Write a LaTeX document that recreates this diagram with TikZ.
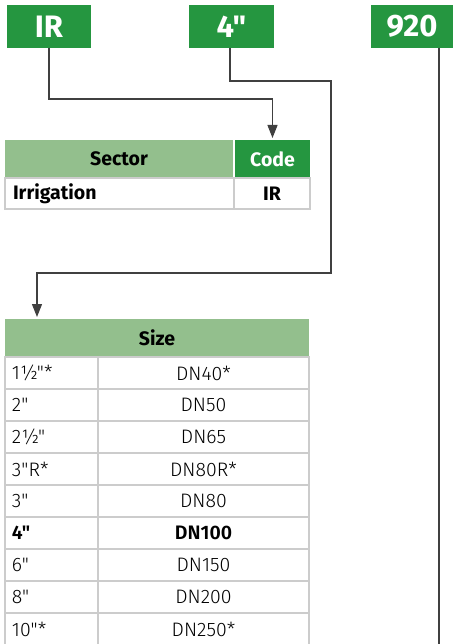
\documentclass[tikz,border=0pt]{standalone}
\usepackage{fontspec}
\setmainfont{Fira Sans}[Ligatures=TeXOff]
\newfontfamily\lightfont{Fira Sans Light}
\usetikzlibrary{arrows.meta,positioning}
\definecolor{codegreen}{HTML}{259640}
\definecolor{headgreen}{HTML}{93BF8D}
\definecolor{gridgray}{HTML}{CCCCCC}

\begin{document}
\begin{tikzpicture}[x=1pt, y=-1pt, every node/.style={inner sep=0pt, outer sep=0pt},
  codebox/.style={fill=codegreen, text=white, font=\fontsize{31}{32}\selectfont\bfseries, minimum width=84, minimum height=43},
  headcell/.style={fill=headgreen, font=\fontsize{19.5}{20}\selectfont\bfseries, minimum height=38},
  cell/.style={draw=gridgray, line width=1.2pt, font=\fontsize{19.5}{20}\selectfont\lightfont, minimum height=32},
  link/.style={draw=black!75, line width=1.1pt},
  arrow/.style={link, -{Triangle[width=10pt,length=13pt]}, shorten >=2pt}]
  \useasboundingbox (0,0) rectangle (454,644);

  % nodes
  \node[codebox] (ir) at (49,26.5) {IR};
  \node[codebox, minimum width=85] (size) at (231.5,26.5) {4"};
  \node[codebox, minimum width=82] (num) at (412,26.5) {920};

  \node[headcell, minimum width=228] (sectorhead) at (119,159) {Sector};
  \node[headcell, fill=codegreen, text=white, minimum width=75] (codehead) at (272.5,159) {Code};
  \node[cell, minimum width=229, minimum height=31, font=\fontsize{19.5}{20}\selectfont\bfseries] (sectorrow) at (119.5,193.5) {};
  \node[cell, minimum width=76, minimum height=31, font=\fontsize{19.5}{20}\selectfont\bfseries, right=0pt of sectorrow] (coderow) {IR};
  \node[anchor=west, font=\fontsize{19.5}{20}\selectfont\bfseries] at ([xshift=8pt]sectorrow.west) {Irrigation};

  \node[headcell, minimum width=304] (sizehead) at (157,338) {Size};
  \foreach \inch/\dn [count=\i] in {1½"*/DN40*, 2"/DN50, 2½"/DN65, 3"R*/DN80R*, 3"/DN80,
      {\bfseries 4"}/{\bfseries DN100}, 6"/DN150, 8"/DN200, 10"*/DN250*} {
    \node[cell, minimum width=93] (inch\i) at (51.5,341+32*\i) {};
    \node[anchor=west, font=\fontsize{19.5}{20}\selectfont\lightfont] at ([xshift=7pt]inch\i.west) {\inch};
    \node[cell, minimum width=211, right=0pt of inch\i] (dn\i) {\dn};
  }

  % arrows
  \coordinate (irbend) at (49,99);
  \coordinate (sizebend) at (230,81);
  \coordinate (sizeturn) at (331,273);
  \coordinate (sizedrop) at (37,319);
  \coordinate (numend) at (439,644);
  \draw[arrow] (ir.south) -- (irbend) -| (codehead.north);
  \draw[arrow] (size.south -| sizebend) -- (sizebend) -| (sizeturn) -| (sizedrop);
  \draw[link] (num.south -| numend) -- (numend);
\end{tikzpicture}
\end{document}
